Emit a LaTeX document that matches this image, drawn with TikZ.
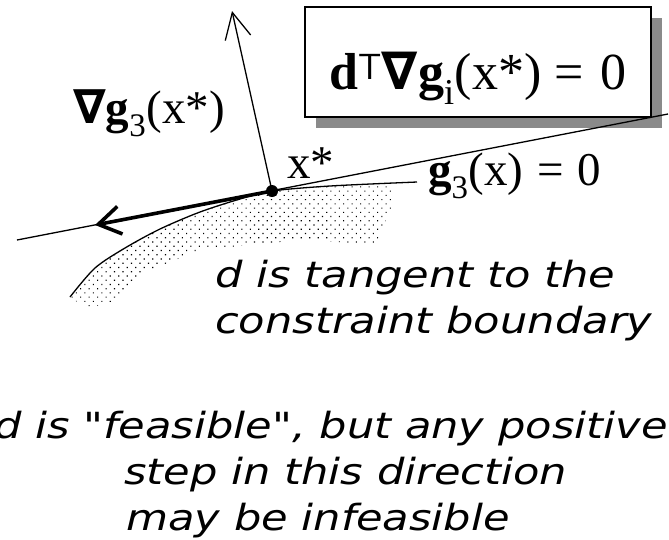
\documentclass[tikz,border=0pt]{standalone}
\usepackage{fontspec}
\setmainfont{Liberation Serif}
\newfontfamily\nablafont{DejaVu Sans}
\newfontfamily\notefont{DejaVu Sans}[FakeStretch=1.2]
\usepackage{tikz}
\usetikzlibrary{arrows.meta,positioning,shadows,patterns.meta,calc}
\definecolor{shadowgray}{HTML}{8A8A8A}
\tikzset{
  eqbox/.style={draw=black, fill=white, line width=1.6pt, minimum width=346pt, minimum height=110pt, inner sep=0pt, text height=80pt, text depth=26pt, font=\fontsize{52}{56}\selectfont, drop shadow={shadow xshift=11pt, shadow yshift=-11pt, fill=shadowgray, opacity=1}},
  mathlbl/.style={inner sep=0pt, font=\fontsize{47}{50}\selectfont},
  notetxt/.style={inner sep=0pt, align=left, font=\notefont\fontsize{36}{46}\selectfont\itshape},
  xdot/.style={circle, fill=black, inner sep=0pt, minimum size=12pt},
  feasdots/.style={pattern={Dots[distance=6pt, angle=45, radius=0.8pt]}},
  gradarrow/.style={-{Straight Barb[length=26pt, width=26pt]}, line width=1.3pt},
  steparrow/.style={-{Straight Barb[length=22pt, width=28pt]}, line width=3.6pt},
  thinline/.style={line width=1.3pt}
}

\begin{document}
\begin{tikzpicture}[x=1pt, y=-1pt]
  \useasboundingbox (0,0) rectangle (669,539);
  % feasible side of the constraint
  \fill[feasdots] plot[smooth] coordinates {(70,297) (95,268) (125,248) (160,229) (200,212) (240,199) (272,191) (330,186) (392,183)}
    -- (393,205) -- (376,244) -- (300,240) -- (200,250) -- (140,274) -- (112,304) -- (85,307) -- cycle;
  \draw[thinline] plot[smooth] coordinates {(70,297) (95,268) (125,248) (160,229) (200,212) (240,199) (272,191) (330,186) (417,182)};
  \node[eqbox] (eqbox) at (478,62) {\textbf{d}\textsuperscript{\textsf{T}}{\nablafont\bfseries ∇}\textbf{g}\textsubscript{i}(x*) = \hspace{4pt}0\hspace{16pt}};
  \coordinate (tanL) at (17,240);
  \coordinate (tanR) at (668,114);
  \coordinate (stepend) at (95,225);
  \coordinate (gradend) at (232,11);
  \node[xdot] (xstar) at (272,191) {};
  \draw[thinline] (tanL) -- (tanR);
  \draw[gradarrow] (xstar.center) -- (gradend);
  \draw[steparrow] (xstar.center) -- (stepend);
  \node[mathlbl, anchor=base west] (gradlbl) at (73,123) {{\nablafont\bfseries ∇}\textbf{g}\textsubscript{3}(x*)};
  \node[mathlbl, anchor=base west] (xstarlbl) at (287,178) {x*};
  \node[mathlbl, anchor=base west] (bndlbl) at (428,185) {\textbf{g}\textsubscript{3}(x) \hspace{2pt}= \hspace{2pt}0};
  \node[notetxt, anchor=base west] (tannote) at (215,333) {d is tangent to the\\constraint boundary};
  \node[notetxt, anchor=base west] (stepnote) at (-6,530) {d is "feasible", but any positive\\\hspace*{130pt}step in this direction\\\hspace*{132pt}may be infeasible};
\end{tikzpicture}
\end{document}
